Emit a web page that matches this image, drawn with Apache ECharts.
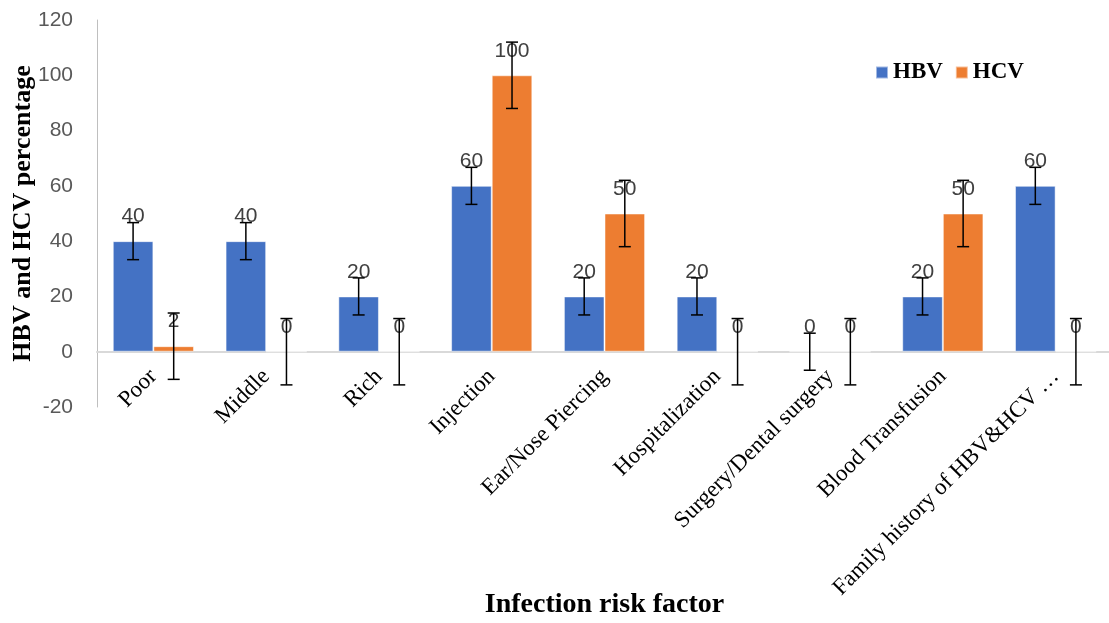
<!DOCTYPE html>
<html>
<head>
<meta charset="utf-8">
<script src="https://cdn.jsdelivr.net/npm/echarts@6/dist/echarts.min.js"></script>
<style>
html,body{margin:0;padding:0;background:#fff;}
#chart{width:1109px;height:623px;}
</style>
</head>
<body>
<div id="chart"></div>
<script>
const categories = ["Poor","Middle","Rich","Injection","Ear/Nose Piercing","Hospitalization","Surgery/Dental surgery","Blood Transfusion","Family history of HBV&HCV \u2026"];
const hbvValues = [40,40,20,60,20,20,0,20,60];
const hcvValues = [2,0,0,100,50,0,0,50,0];
const hbvError = [6.7,6.7,6.7,6.7,6.7,6.7,6.7,6.7,6.7];
const hcvError = [12,12,12,12,12,12,12,12,12];
const yTicks = {min:-20, max:120, interval:20};

const BLUE = '#4472C4', ORANGE = '#ED7D31';
const CAT_GAP = 0.28;

function errData(vals, errs){
  return vals.map((v,i)=>[i, v, errs[i]]);
}
function errRender(sign){
  return function(params, api){
    const x = api.value(0), v = api.value(1), e = api.value(2);
    const band = api.size([1,0])[0];
    const off = sign * band * (1-CAT_GAP)/4;
    const t = api.coord([x, v+e]);
    const b = api.coord([x, v-e]);
    const cx = t[0] + off;
    const cap = 6;
    const st = {stroke:'#000', lineWidth:1.5};
    return {type:'group', children:[
      {type:'line', shape:{x1:cx,y1:t[1],x2:cx,y2:b[1]}, style:st},
      {type:'line', shape:{x1:cx-cap,y1:t[1],x2:cx+cap,y2:t[1]}, style:st},
      {type:'line', shape:{x1:cx-cap,y1:b[1],x2:cx+cap,y2:b[1]}, style:st}
    ]};
  };
}

const chart = echarts.init(document.getElementById('chart'), null, {renderer:'canvas'});
const labelStyle = {show:true, position:'top', distance:14, color:'#404040', fontSize:21, fontFamily:'Liberation Sans'};

chart.setOption({
  animation:false,
  backgroundColor:'#ffffff',
  grid:{left:97, top:20, width:1015, bottom:216, containLabel:false, outerBoundsMode:'none'},
  legend:{
    data:['HBV','HCV'], left:870, top:56, icon:'rect', itemWidth:12, itemHeight:12, itemGap:12,
    textStyle:{fontFamily:'Liberation Serif', fontWeight:'bold', fontSize:23, color:'#000'}
  },
  xAxis:{
    type:'category', data:categories,
    name:'Infection risk factor', nameLocation:'middle', nameGap:184, nameMoveOverlap:false,
    nameTextStyle:{fontFamily:'Liberation Serif', fontWeight:'bold', fontSize:28, color:'#000'},
    axisLine:{onZero:true, lineStyle:{color:'#d9d9d9', width:2}},
    axisTick:{show:false},
    axisLabel:{rotate:45, interval:0, margin:-34, fontFamily:'Liberation Serif', fontSize:23, color:'#000'}
  },
  yAxis:{
    type:'value', min:yTicks.min, max:yTicks.max, interval:yTicks.interval,
    name:'HBV and HCV percentage', nameLocation:'middle', nameGap:61, nameMoveOverlap:false,
    nameTextStyle:{fontFamily:'Liberation Serif', fontWeight:'bold', fontSize:26, color:'#000'},
    axisLine:{show:true, onZero:false, lineStyle:{color:'#bfbfbf', width:1}},
    axisTick:{show:false},
    splitLine:{show:false},
    axisLabel:{margin:24, fontFamily:'Liberation Sans', fontSize:21, color:'#595959'}
  },
  series:[
    {name:'HBV', type:'bar', data:hbvValues, barGap:'0%', barCategoryGap:(CAT_GAP*100)+'%',
     itemStyle:{color:BLUE, borderColor:'rgba(255,255,255,0.5)', borderWidth:1}, label:labelStyle},
    {name:'HCV', type:'bar', data:hcvValues, barGap:'0%', barCategoryGap:(CAT_GAP*100)+'%',
     itemStyle:{color:ORANGE, borderColor:'rgba(255,255,255,0.5)', borderWidth:1}, label:labelStyle},
    {type:'custom', renderItem:errRender(-1), data:errData(hbvValues,hbvError), encode:{x:0,y:1}, z:5, silent:true},
    {type:'custom', renderItem:errRender(1), data:errData(hcvValues,hcvError), encode:{x:0,y:1}, z:5, silent:true}
  ]
});
</script>
</body>
</html>
